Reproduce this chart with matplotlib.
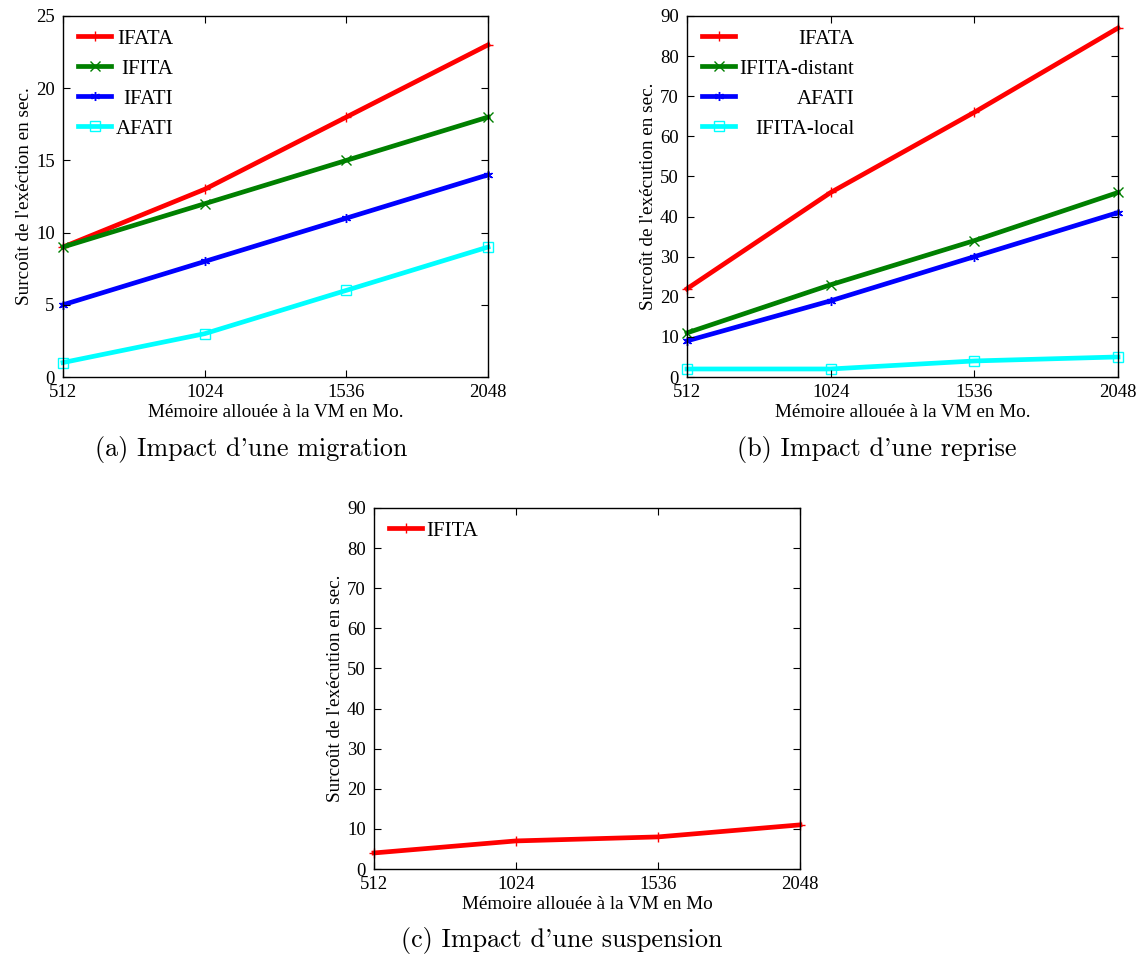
import matplotlib
matplotlib.use('Agg')
from matplotlib import pyplot as plt

plt.rcParams['font.family'] = ['Liberation Serif', 'DejaVu Serif']

# Memoire allouee (Mo)
mem = [512, 1024, 1536, 2048]

# (a) Impact d'une migration
mig_ifata = [9, 13, 18, 23]
mig_ifita = [9, 12, 15, 18]
mig_ifati = [5, 8, 11, 14]
mig_afati = [1, 3, 6, 9]
mig_labels = ['IFATA', 'IFITA', 'IFATI', 'AFATI']

# (b) Impact d'une reprise
rep_ifata = [22, 46, 66, 87]
rep_ifita_dist = [11, 23, 34, 46]
rep_afati = [9, 19, 30, 41]
rep_ifita_loc = [2, 2, 4, 5]
rep_labels = ['IFATA', 'IFITA-distant', 'AFATI', 'IFITA-local']

# (c) Impact d'une suspension
sus_ifita = [4, 7, 8, 11]
sus_labels = ['IFITA']

# gnuplot-like styles: colour, marker
styles = [('#ff0000', '+'), ('#008000', 'x'), ('#0000ff', (6, 2, 0)), ('#00ffff', 's')]

W, H = 1143, 955
fig = plt.figure(figsize=(W / 100, H / 100), dpi=100)


def setup(ax, ymax, ystep, ylabel, xlabel):
    ax.set_xlim(512, 2048)
    ax.set_ylim(0, ymax)
    ax.set_xticks(mem)
    ax.set_yticks(range(0, ymax + 1, ystep))
    ax.tick_params(direction='in', top=True, right=True, length=5, width=0.8,
                   labelsize=13.5, colors='black')
    ax.tick_params(axis='y', pad=6)
    ax.tick_params(axis='x', pad=5)
    for s in ax.spines.values():
        s.set_linewidth(1.0)
    ax.set_ylabel(ylabel, fontsize=13.8, labelpad=2)
    ax.set_xlabel(xlabel, fontsize=13.8, labelpad=2)


def draw(ax, series, labels):
    for (col, mk), ys, lab in zip(styles, series, labels):
        ax.plot(mem, ys, color=col, linewidth=3.4, marker=mk, markersize=6.5,
                markeredgewidth=1.0, markerfacecolor='none', label=lab,
                clip_on=False, zorder=1)


def legend(ax, right_align):
    w = ax.get_position().width * W
    h = ax.get_position().height * H
    leg = ax.legend(loc='upper left', bbox_to_anchor=(15 / w, 1 - 13 / h), frameon=False,
                    fontsize=15, handlelength=1.6, handletextpad=0.2,
                    labelspacing=0.5, borderaxespad=0, borderpad=0)
    if right_align:
        fig.canvas.draw()
        texts = leg.get_texts()
        rights = [t.get_window_extent().x1 for t in texts]
        for t, r in zip(texts, rights):
            t.set_position((max(rights) - r, 0))
    return leg


ylab = "Surcoût de l'exécution en sec."

ax_a = fig.add_axes([63 / W, 1 - 377 / H, 425 / W, 361 / H])
draw(ax_a, [mig_ifata, mig_ifita, mig_ifati, mig_afati], mig_labels)
setup(ax_a, 25, 5, "Surcoût de l'exéction en sec.", 'Mémoire allouée à la VM en Mo.')
legend(ax_a, True)

ax_b = fig.add_axes([687 / W, 1 - 377 / H, 431 / W, 361 / H])
draw(ax_b, [rep_ifata, rep_ifita_dist, rep_afati, rep_ifita_loc], rep_labels)
setup(ax_b, 90, 10, ylab, 'Mémoire allouée à la VM en Mo.')
legend(ax_b, True)

ax_c = fig.add_axes([374 / W, 1 - 869 / H, 426 / W, 361 / H])
draw(ax_c, [sus_ifita], sus_labels)
setup(ax_c, 90, 10, ylab, 'Mémoire allouée à la VM en Mo')
legend(ax_c, False)

cap = dict(ha='center', va='center', fontsize=18.8, family=['cmr10', 'DejaVu Serif'])
fig.text(251 / W, 1 - 449 / H, "(a) Impact d'une migration", **cap)
fig.text(877 / W, 1 - 449 / H, "(b) Impact d'une reprise", **cap)
fig.text(562 / W, 1 - 940 / H, "(c) Impact d'une suspension", **cap)

fig.savefig('out.png', dpi=100)
